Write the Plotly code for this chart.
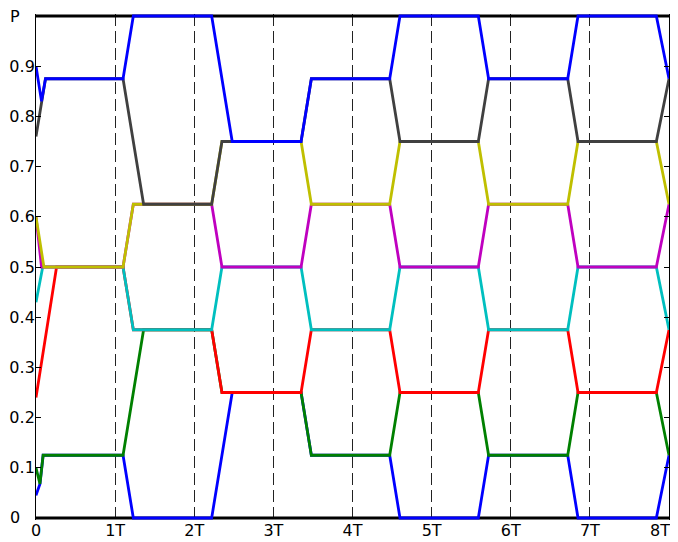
import plotly.graph_objects as go

# Tick labels
x_tickvals = [0, 1, 2, 3, 4, 5, 6, 7, 8]
x_ticktext = ["0", "1T", "2T", "3T", "4T", "5T", "6T", "7T", ""]
x_end_label = "8T"
y_tickvals = [0, 0.1, 0.2, 0.3, 0.4, 0.5, 0.6, 0.7, 0.8, 0.9]
y_ticktext = ["", "0.1", "0.2", "0.3", "0.4", "0.5", "0.6", "0.7", "0.8", "0.9"]
y_corner_labels = [(0, "0"), (1, "P")]

# Series (time in units of T, value P)
blue1_t = [0, 0.05, 0.09, 1.10, 1.23, 2.22, 2.48, 3.35, 3.48, 4.47, 4.60, 5.59, 5.72, 6.72, 6.85, 7.84, 8.0]
blue1_p = [0.045, 0.068, 0.125, 0.125, 0, 0, 0.25, 0.25, 0.125, 0.125, 0, 0, 0.125, 0.125, 0, 0, 0.125]

green_t = [0, 0.05, 0.09, 1.10, 1.36, 2.22, 2.35, 3.35, 3.48, 4.47, 4.60, 5.59, 5.72, 6.72, 6.85, 7.84, 8.0]
green_p = [0.1, 0.068, 0.125, 0.125, 0.375, 0.375, 0.25, 0.25, 0.125, 0.125, 0.25, 0.25, 0.125, 0.125, 0.25, 0.25, 0.125]

red_t = [0, 0.26, 1.10, 1.23, 2.22, 2.35, 3.35, 3.48, 4.47, 4.60, 5.59, 5.72, 6.72, 6.85, 7.84, 8.0]
red_p = [0.24, 0.5, 0.5, 0.375, 0.375, 0.25, 0.25, 0.375, 0.375, 0.25, 0.25, 0.375, 0.375, 0.25, 0.25, 0.375]

cyan_t = [0, 0.085, 1.10, 1.23, 2.22, 2.35, 3.35, 3.48, 4.47, 4.60, 5.59, 5.72, 6.72, 6.85, 7.84, 8.0]
cyan_p = [0.43, 0.5, 0.5, 0.375, 0.375, 0.5, 0.5, 0.375, 0.375, 0.5, 0.5, 0.375, 0.375, 0.5, 0.5, 0.375]

magenta_t = [0, 0.07, 1.10, 1.23, 2.22, 2.35, 3.35, 3.48, 4.47, 4.60, 5.59, 5.72, 6.72, 6.85, 7.84, 8.0]
magenta_p = [0.6, 0.5, 0.5, 0.625, 0.625, 0.5, 0.5, 0.625, 0.625, 0.5, 0.5, 0.625, 0.625, 0.5, 0.5, 0.625]

yellow_t = [0, 0.1, 1.10, 1.23, 2.22, 2.35, 3.35, 3.48, 4.47, 4.60, 5.59, 5.72, 6.72, 6.85, 7.84, 8.0]
yellow_p = [0.6, 0.5, 0.5, 0.625, 0.625, 0.75, 0.75, 0.625, 0.625, 0.75, 0.75, 0.625, 0.625, 0.75, 0.75, 0.625]

gray_t = [0, 0.07, 0.12, 1.10, 1.36, 2.22, 2.35, 3.35, 3.48, 4.47, 4.60, 5.59, 5.72, 6.72, 6.85, 7.84, 8.0]
gray_p = [0.76, 0.83, 0.875, 0.875, 0.625, 0.625, 0.75, 0.75, 0.875, 0.875, 0.75, 0.75, 0.875, 0.875, 0.75, 0.75, 0.875]

blue8_t = [0, 0.07, 0.12, 1.10, 1.23, 2.22, 2.48, 3.35, 3.48, 4.47, 4.60, 5.59, 5.72, 6.72, 6.85, 7.84, 8.0]
blue8_p = [0.9, 0.83, 0.875, 0.875, 1, 1, 0.75, 0.75, 0.875, 0.875, 1, 1, 0.875, 0.875, 1, 1, 0.875]

series = [
    (blue1_t, blue1_p, "#0000FF"),
    (green_t, green_p, "#008000"),
    (red_t, red_p, "#FF0000"),
    (cyan_t, cyan_p, "#00BFBF"),
    (magenta_t, magenta_p, "#BF00BF"),
    (yellow_t, yellow_p, "#BFBF00"),
    (gray_t, gray_p, "#404040"),
    (blue8_t, blue8_p, "#0000FF"),
]

fig = go.Figure()
for t, p, c in series:
    fig.add_trace(go.Scatter(x=t, y=p, mode="lines",
                             line=dict(color=c, width=2.8),
                             showlegend=False, hoverinfo="skip"))

# thick top and bottom frame lines
for yy in (0, 1):
    fig.add_shape(type="line", xref="x", yref="y", x0=0, x1=8, y0=yy, y1=yy,
                  line=dict(color="black", width=3), layer="between")

# left-aligned labels at the bottom and top of the y axis
for yv, txt in y_corner_labels:
    fig.add_annotation(text=txt, xref="paper", yref="y", x=0, y=yv,
                       xanchor="left", yanchor="middle", xshift=-28, showarrow=False,
                       font=dict(size=16, color="black"))

# last x label kept inside the window
fig.add_annotation(text=x_end_label, xref="paper", yref="paper", x=1, y=0,
                   xanchor="right", yanchor="top", xshift=3, yshift=1, showarrow=False,
                   font=dict(size=16, color="black"))

# page body adds an 8px offset; plot area placed to match the 678x542 window
fig.update_layout(
    width=678, height=542,
    margin=dict(l=28, r=17, t=6, b=30),
    plot_bgcolor="white", paper_bgcolor="white",
    font=dict(family="DejaVu Sans, sans-serif", size=16, color="black"),
    xaxis=dict(range=[0, 8], tickvals=x_tickvals, ticktext=x_ticktext,
               showgrid=True, gridcolor="#222222", gridwidth=1, griddash="12px,5px",
               showline=False, zeroline=False, ticks="", ticklabelstandoff=-1,
               automargin=False),
    yaxis=dict(range=[-0.004, 1.004], tickvals=y_tickvals, ticktext=y_ticktext,
               showgrid=False, zeroline=False, showline=True, linecolor="black",
               linewidth=1, mirror="ticks", ticks="inside", ticklen=5,
               tickcolor="black", automargin=False, ticklabelstandoff=-3),
)

fig.write_html("out.html")
